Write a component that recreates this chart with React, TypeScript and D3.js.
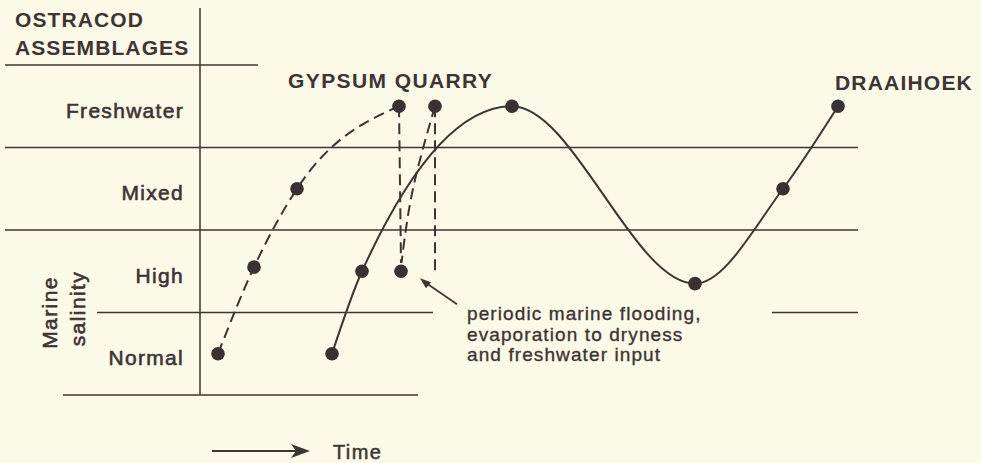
import * as d3 from "d3";
import { useEffect, useRef } from "react";

// assemblage levels, bottom to top (each band spans [i, i+1])
const levels = ["Normal", "High", "Mixed", "Freshwater"];

// Gypsum Quarry sequence (dashed)
const gypsumTime = [1.8, 5.4, 9.7, 19.9];
const gypsumLevel = [0.5, 1.55, 2.5, 3.5];

// flooding episode at Gypsum Quarry
const floodTime = [20.1, 23.5];
const floodLevel = [1.5, 3.5];

// Draaihoek sequence (solid)
const draaiTime = [13.2, 16.2, 31.2, 49.5, 58.3, 63.8];
const draaiLevel = [0.5, 1.5, 3.5, 1.35, 2.5, 3.5];

const noteLines = [
  "periodic marine flooding,",
  "evaporation to dryness",
  "and freshwater input",
];

const INK = "#3d3434";
const BG = "#fbf9e7";

export default function App() {
  const ref = useRef<SVGSVGElement>(null);

  useEffect(() => {
    const width = 981;
    const height = 463;
    const axisX = 200;

    d3.select(ref.current).selectAll("*").remove();

    const svg = d3.select(ref.current)
      .attr("width", width)
      .attr("height", height);

    svg.append("rect")
      .attr("width", width)
      .attr("height", height)
      .attr("fill", BG);

    const x = d3.scaleLinear().domain([0, 66]).range([axisX, 860]);
    const y = d3.scaleLinear().domain([0, 4]).range([395, 65]);

    const font = "'Liberation Sans', Arial, Helvetica, sans-serif";

    /* ---------- rules ---------- */
    const rules: [number, number, number][] = [
      [4, 5, 258],
      [3, 5, 858],
      [2, 5, 858],
      [1, 97, 433],
      [1, 772, 858],
      [0, 63, 418],
    ];
    svg.selectAll("line.rule")
      .data(rules)
      .enter()
      .append("line")
      .attr("class", "rule")
      .attr("x1", d => d[1])
      .attr("x2", d => d[2])
      .attr("y1", d => y(d[0]))
      .attr("y2", d => y(d[0]))
      .attr("stroke", INK)
      .attr("stroke-width", 1.4);

    svg.append("line")
      .attr("x1", axisX).attr("x2", axisX)
      .attr("y1", 8).attr("y2", y(0))
      .attr("stroke", INK)
      .attr("stroke-width", 1.5);

    /* ---------- header + level labels ---------- */
    const header = svg.append("g")
      .attr("font-family", font)
      .attr("font-weight", "bold")
      .attr("font-size", 21)
      .attr("letter-spacing", 1.1)
      .attr("fill", INK);
    header.append("text").attr("x", 15).attr("y", 27).text("OSTRACOD");
    header.append("text").attr("x", 15).attr("y", 55).text("ASSEMBLAGES");

    svg.selectAll("text.level")
      .data(levels)
      .enter()
      .append("text")
      .attr("class", "level")
      .attr("x", 184)
      .attr("y", (_, i) => y(i + 0.5) + 11.5)
      .attr("text-anchor", "end")
      .attr("font-family", font)
      .attr("font-size", 21)
      .attr("letter-spacing", 1.3)
      .attr("fill", INK)
      .attr("stroke", INK)
      .attr("stroke-width", 0.6)
      .text(d => d);

    const marine = svg.append("g")
      .attr("font-family", font)
      .attr("font-size", 21)
      .attr("letter-spacing", 1.4)
      .attr("fill", INK)
      .attr("stroke", INK)
      .attr("stroke-width", 0.6)
      .attr("text-anchor", "middle");
    marine.append("text")
      .attr("transform", `translate(57, ${y(1)}) rotate(-90)`)
      .text("Marine");
    marine.append("text")
      .attr("transform", `translate(85, ${y(1) - 4}) rotate(-90)`)
      .text("salinity");

    /* ---------- curves ---------- */
    const gypsum = gypsumTime.map((t, i) => [t, gypsumLevel[i]] as [number, number]);
    const draai = draaiTime.map((t, i) => [t, draaiLevel[i]] as [number, number]);

    const line = d3.line<[number, number]>()
      .x(d => x(d[0]))
      .y(d => y(d[1]))
      .curve(d3.curveMonotoneX);

    const dash = "11,6";

    svg.append("path")
      .attr("d", line(gypsum))
      .attr("fill", "none")
      .attr("stroke", INK)
      .attr("stroke-width", 2)
      .attr("stroke-dasharray", dash);

    svg.append("path")
      .attr("d", line(draai))
      .attr("fill", "none")
      .attr("stroke", INK)
      .attr("stroke-width", 2);

    // flooding: drop from the freshwater peak, refill, drop again
    const peakT = gypsumTime[gypsumTime.length - 1];
    const lowT = floodTime[0];
    const highT = floodTime[1];
    const floods: [number, number][][] = [
      [[peakT, floodLevel[1]], [lowT, floodLevel[0] + 0.1]],
      [[highT, floodLevel[1]], [highT, floodLevel[0] - 0.02]],
    ];
    floods.forEach(seg => {
      svg.append("path")
        .attr("d", d3.line<[number, number]>().x(d => x(d[0])).y(d => y(d[1]))(seg))
        .attr("fill", "none")
        .attr("stroke", INK)
        .attr("stroke-width", 2)
        .attr("stroke-dasharray", dash);
    });
    svg.append("path")
      .attr("d", d3.line<[number, number]>()
        .x(d => x(d[0])).y(d => y(d[1]))
        .curve(d3.curveNatural)([
          [highT, floodLevel[1]],
          [highT - 2.2, (floodLevel[0] + floodLevel[1]) / 2],
          [lowT + 0.05, floodLevel[0] + 0.1],
        ]))
      .attr("fill", "none")
      .attr("stroke", INK)
      .attr("stroke-width", 2)
      .attr("stroke-dasharray", dash);

    /* ---------- points ---------- */
    const pts: [number, number][] = [
      ...gypsum,
      [lowT, floodLevel[0]],
      [highT, floodLevel[1]],
      ...draai,
    ];
    svg.selectAll("circle.pt")
      .data(pts)
      .enter()
      .append("circle")
      .attr("class", "pt")
      .attr("cx", d => x(d[0]))
      .attr("cy", d => y(d[1]))
      .attr("r", 6.8)
      .attr("fill", "#3a3232");

    /* ---------- site titles ---------- */
    const titles = svg.append("g")
      .attr("font-family", font)
      .attr("font-weight", "bold")
      .attr("font-size", 21)
      .attr("fill", INK);
    titles.append("text")
      .attr("x", 288).attr("y", 88)
      .attr("letter-spacing", 1.4)
      .text("GYPSUM QUARRY");
    titles.append("text")
      .attr("x", 835).attr("y", 90)
      .attr("letter-spacing", 1.2)
      .text("DRAAIHOEK");

    /* ---------- annotation ---------- */
    const px = x(lowT);
    const py = y(floodLevel[0]);
    svg.append("line")
      .attr("x1", px + 56).attr("y1", py + 33)
      .attr("x2", px + 24).attr("y2", py + 11)
      .attr("stroke", INK)
      .attr("stroke-width", 1.6);
    svg.append("path")
      .attr("d", `M${px + 19},${py + 7} L${px + 30},${py + 11} L${px + 25},${py + 17} Z`)
      .attr("fill", INK);

    svg.selectAll("text.note")
      .data(noteLines)
      .enter()
      .append("text")
      .attr("class", "note")
      .attr("x", 467)
      .attr("y", (_, i) => 320 + i * 20.5)
      .attr("font-family", font)
      .attr("font-size", 19)
      .attr("letter-spacing", 1.1)
      .attr("fill", INK)
      .attr("stroke", INK)
      .attr("stroke-width", 0.35)
      .text(d => d);

    /* ---------- time arrow ---------- */
    svg.append("line")
      .attr("x1", 212).attr("x2", 300)
      .attr("y1", 451).attr("y2", 451)
      .attr("stroke", INK)
      .attr("stroke-width", 2);
    svg.append("path")
      .attr("d", "M310,451 L291,444 L296,451 L291,458 Z")
      .attr("fill", INK);
    svg.append("text")
      .attr("x", 333).attr("y", 459)
      .attr("font-family", font)
      .attr("font-size", 20)
      .attr("letter-spacing", 1.4)
      .attr("fill", INK)
      .attr("stroke", INK)
      .attr("stroke-width", 0.5)
      .text("Time");
  }, []);

  return (
    <svg ref={ref} style={{ position: "absolute", left: 0, top: 0, display: "block" }} />
  );
}
